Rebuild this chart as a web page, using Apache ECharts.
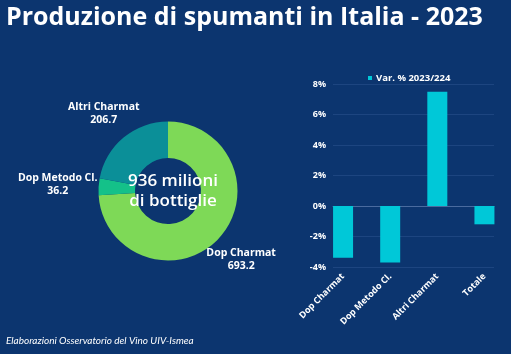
<!DOCTYPE html>
<html>
<head>
<meta charset="utf-8">
<script src="https://cdn.jsdelivr.net/npm/echarts@6/dist/echarts.min.js"></script>
<style>
  html, body { margin: 0; padding: 0; background: #0c356f; }
  #chart { width: 511px; height: 354px; }
</style>
</head>
<body>
<div id="chart"></div>
<script>
// dati: produzione (milioni di bottiglie)
const pieNames = ['Dop Charmat', 'Dop Metodo Cl.', 'Altri Charmat'];
const pieValues = [693.2, 36.2, 206.7];
const pieColors = ['#7ed957', '#14c189', '#0b8f98'];

// variazione % 2023 / 2022
const barName = 'Var. % 2023/224';
const barCategories = ['Dop Charmat', 'Dop Metodo Cl.', 'Altri Charmat', 'Totale'];
const barValues = [-3.4, -3.7, 7.5, -1.2];
const yMin = -4, yMax = 8, yStep = 2;

const total = pieValues.reduce((a, b) => a + b, 0);
const font = 'Open Sans';
const white = '#ffffff';

const chart = echarts.init(document.getElementById('chart'));

const option = {
  backgroundColor: '#0c356f',
  title: [
    {
      text: 'Produzione di spumanti in Italia - 2023',
      left: 6, top: 5, padding: 0,
      textStyle: { color: white, fontFamily: font, fontWeight: 'bold', fontSize: 25 }
    },
    {
      text: Math.round(total) + ' milioni\ndi bottiglie',
      left: 168, top: 186,
      textAlign: 'center', textVerticalAlign: 'middle',
      textStyle: { color: white, fontFamily: font, fontWeight: 600, fontSize: 17, lineHeight: 20 }
    },
    {
      text: 'Elaborazioni Osservatorio del Vino UIV-Ismea',
      left: 6, top: 336, padding: 0,
      textStyle: { color: white, fontFamily: 'Lato', fontStyle: 'italic', fontWeight: 'normal', fontSize: 10 }
    }
  ],
  legend: {
    data: [barName],
    left: 363, top: 68,
    icon: 'rect', itemWidth: 4, itemHeight: 4, itemGap: 4,
    textStyle: { color: white, fontFamily: font, fontWeight: 'bold', fontSize: 9.5, padding: [0, 0, 0, -1] }
  },
  // grid 0: linee guida ed etichette y; grid 1: barre
  grid: [
    { left: 333, right: 17, top: 84, bottom: 87 },
    { left: 319.5, right: 3, top: 84, bottom: 87 }
  ],
  xAxis: [
    {
      gridIndex: 0, type: 'category', data: barCategories,
      axisLine: { show: true, onZero: true, lineStyle: { color: '#4a6b9f', width: 1 } },
      axisTick: { show: false }, axisLabel: { show: false }
    },
    {
      gridIndex: 1, type: 'category', data: barCategories,
      axisLine: { show: false, onZero: false }, axisTick: { show: false },
      axisLabel: {
        color: white, fontFamily: font, fontWeight: 'bold', fontSize: 9,
        rotate: 45, margin: 8, interval: 0
      }
    }
  ],
  yAxis: [
    {
      gridIndex: 0, type: 'value', min: yMin, max: yMax, interval: yStep,
      axisLine: { show: false }, axisTick: { show: false },
      splitLine: { lineStyle: { color: '#1d4580', width: 1 } },
      axisLabel: {
        color: white, fontFamily: font, fontWeight: 'bold', fontSize: 9, margin: 7,
        formatter: v => v + '%'
      }
    },
    {
      gridIndex: 1, type: 'value', min: yMin, max: yMax, interval: yStep,
      show: false
    }
  ],
  series: [
    {
      type: 'pie',
      center: [168, 191],
      radius: [33, 69.5],
      startAngle: 90,
      avoidLabelOverlap: false,
      silent: true,
      data: pieNames.map((n, i) => ({
        name: n, value: pieValues[i], itemStyle: { color: pieColors[i] },
        labelLine: i === 1 ? { length: 41 } : undefined
      })),
      label: {
        show: true, position: 'outside',
        formatter: '{a|{b}}\n{a|{c}}',
        rich: {
          a: { color: white, fontFamily: font, fontWeight: 'bold', fontSize: 10.5, lineHeight: 13, align: 'center' }
        }
      },
      labelLine: { show: true, length: 31, length2: 0, lineStyle: { opacity: 0 } },
      labelLayout: p => {
        const pts = p.labelLinePoints;
        if (!pts) return {};
        return { x: pts[1][0], y: pts[1][1], align: 'center', verticalAlign: 'middle' };
      }
    },
    {
      type: 'bar',
      name: barName,
      xAxisIndex: 1, yAxisIndex: 1,
      data: barValues,
      barWidth: 20,
      itemStyle: { color: '#00c8d8' }
    }
  ]
};

chart.setOption(option);
</script>
</body>
</html>
